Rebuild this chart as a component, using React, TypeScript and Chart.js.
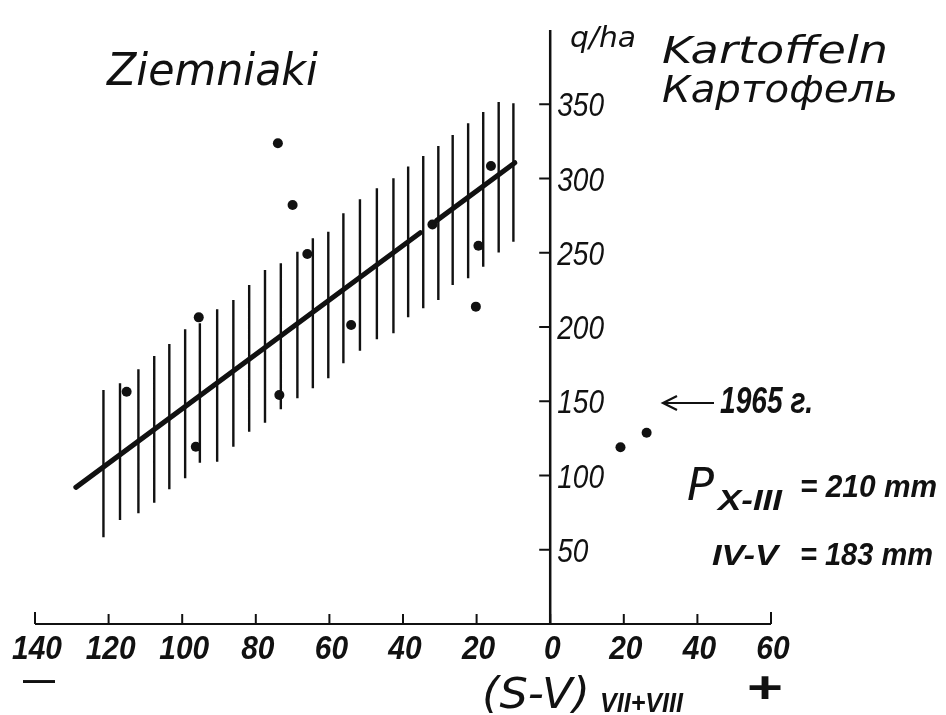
import React, { useEffect, useRef } from "react";
import { Chart, registerables } from "chart.js";

Chart.register(...registerables);

// ---- data ----
const xTicks = [-140, -120, -100, -80, -60, -40, -20, 0, 20, 40, 60];
const xTickLabels = ["140", "120", "100", "80", "60", "40", "20", "0", "20", "40", "60"];
const yTicks = [50, 100, 150, 200, 250, 300, 350];
const yTickLabels = ["50", "100", "150", "200", "250", "300", "350"];

// observed years (S-V vs yield q/ha)
const pointsX = [-74.0, -70.0, -16.1, -32.0, -19.5, -20.2, -66.0, -54.1, -95.5, -115.1, -73.6, -96.3, 19.1, 26.2];
const pointsY = [323.7, 282.2, 308.4, 269.0, 254.7, 213.7, 249.2, 201.3, 206.5, 156.4, 154.2, 119.4, 119.0, 128.8];

// regression line (with a small break around one point)
const regX = [-128.9, -35.3, -33.0, -30.8, -9.6];
const regY: (number | null)[] = [92.0, 263.5, null, 271.8, 310.6];

// confidence band hatching: vertical strokes
const hatchX = [-121.4, -116.9, -111.9, -107.6, -103.5, -99.2, -95.2, -90.5, -86.1, -81.8, -77.5, -73.2, -68.7, -64.5, -60.3, -56.2, -51.7, -47.1, -42.6, -38.6, -34.5, -30.4, -26.5, -22.3, -18.2, -14.0, -10.0];
const hatchLow = [58.4, 70.0, 74.5, 81.7, 90.7, 98.1, 108.6, 109.3, 119.4, 129.5, 135.6, 144.6, 152.0, 158.7, 165.5, 175.6, 184.0, 191.7, 195.8, 206.5, 212.6, 218.2, 228.3, 232.8, 240.6, 250.2, 257.4];
const hatchHigh = [157.6, 162.1, 171.5, 180.5, 188.6, 198.5, 202.5, 211.9, 218.2, 228.3, 238.4, 242.9, 250.7, 259.7, 264.2, 276.6, 286.0, 293.4, 300.1, 308.0, 315.2, 321.9, 329.3, 337.2, 344.8, 351.5, 350.6];

const X_MIN = -140;
const X_MAX = 60;
const Y_MIN = 0;
const Y_MAX = 400;

const INK = "#111";
const HAND = "'DejaVu Sans', 'Noto Sans', sans-serif";
const NUM = "'Liberation Sans', Arimo, sans-serif";

function drawScaled(
  ctx: CanvasRenderingContext2D,
  text: string,
  x: number,
  baseline: number,
  font: string,
  sx: number,
  align: "left" | "center" = "left"
) {
  ctx.save();
  ctx.font = font;
  const w = ctx.measureText(text).width * sx;
  const left = align === "center" ? x - w / 2 : x;
  ctx.translate(left, baseline);
  ctx.scale(sx, 1);
  ctx.textAlign = "left";
  ctx.textBaseline = "alphabetic";
  ctx.fillStyle = INK;
  ctx.fillText(text, 0, 0);
  ctx.restore();
}

function drawFit(
  ctx: CanvasRenderingContext2D,
  text: string,
  x: number,
  baseline: number,
  font: string,
  width: number
) {
  ctx.save();
  ctx.font = font;
  const w = ctx.measureText(text).width;
  ctx.restore();
  drawScaled(ctx, text, x, baseline, font, width / w);
}

const axesPlugin = {
  id: "handAxes",
  beforeDatasetsDraw(chart: any) {
    const { ctx } = chart;
    const xs = chart.scales.x;
    const ys = chart.scales.y;
    const y0 = ys.getPixelForValue(0);
    const x0 = xs.getPixelForValue(0);
    ctx.save();
    ctx.strokeStyle = INK;
    ctx.lineCap = "butt";
    // x axis
    ctx.lineWidth = 2;
    ctx.beginPath();
    ctx.moveTo(xs.getPixelForValue(X_MIN), y0);
    ctx.lineTo(xs.getPixelForValue(X_MAX), y0);
    ctx.stroke();
    xTicks.forEach((v, i) => {
      const px = xs.getPixelForValue(v);
      const len = i === 0 || i === xTicks.length - 1 ? 12 : 10;
      ctx.beginPath();
      ctx.moveTo(px, y0);
      ctx.lineTo(px, y0 - len);
      ctx.stroke();
      drawScaled(ctx, xTickLabels[i], px + 2, y0 + 35, `italic bold 34px ${NUM}`, 0.88, "center");
    });
    // y axis
    ctx.lineWidth = 2.5;
    ctx.beginPath();
    ctx.moveTo(x0, y0);
    ctx.lineTo(x0, ys.getPixelForValue(Y_MAX));
    ctx.stroke();
    ctx.lineWidth = 2;
    yTicks.forEach((v, i) => {
      const py = ys.getPixelForValue(v);
      ctx.beginPath();
      ctx.moveTo(x0 - 11, py);
      ctx.lineTo(x0, py);
      ctx.stroke();
      drawScaled(ctx, yTickLabels[i], x0 + 7, py + 12, `italic 33px ${NUM}`, 0.85);
    });
    ctx.restore();
  },
  afterDraw(chart: any) {
    const { ctx } = chart;
    ctx.save();
    // titles
    drawFit(ctx, "Ziemniaki", 107, 85, `italic 44px ${HAND}`, 211);
    drawFit(ctx, "q/ha", 570, 47, `italic 29px ${HAND}`, 66);
    drawFit(ctx, "Kartoffeln", 662, 63, `italic 37px ${HAND}`, 226);
    drawFit(ctx, "Картофель", 662, 102, `italic 37px ${HAND}`, 236);

    // arrow to 1965
    ctx.strokeStyle = INK;
    ctx.lineWidth = 2.2;
    ctx.beginPath();
    ctx.moveTo(714, 403);
    ctx.lineTo(664, 403);
    ctx.stroke();
    ctx.beginPath();
    ctx.moveTo(677, 396);
    ctx.lineTo(663, 403);
    ctx.lineTo(677, 410);
    ctx.stroke();
    drawFit(ctx, "1965 г.", 720, 413, `italic bold 36px ${NUM}`, 93);

    // precipitation note
    drawFit(ctx, "P", 687, 500, `italic 44px ${HAND}`, 27);
    drawFit(ctx, "X-III", 718, 510, `italic bold 30px ${NUM}`, 64);
    drawFit(ctx, "= 210 mm", 800, 497, `italic bold 32px ${NUM}`, 137);
    drawFit(ctx, "IV-V", 712, 565, `italic bold 30px ${NUM}`, 66);
    drawFit(ctx, "= 183 mm", 800, 565, `italic bold 32px ${NUM}`, 133);

    // axis caption
    drawFit(ctx, "(S-V)", 482, 708, `italic 42px ${HAND}`, 108);
    drawFit(ctx, "VII+VIII", 600, 712, `italic bold 27px ${NUM}`, 83);
    drawFit(ctx, "—", 23, 690, `bold 30px ${NUM}`, 32);
    drawFit(ctx, "+", 747, 703, `bold 44px ${NUM}`, 36);
    ctx.restore();
  },
};

export default function App() {
  const ref = useRef<HTMLCanvasElement | null>(null);

  useEffect(() => {
    if (!ref.current) return;
    const hatchData: { x: number; y: number | null }[] = [];
    hatchX.forEach((x, i) => {
      hatchData.push({ x, y: hatchLow[i] });
      hatchData.push({ x, y: hatchHigh[i] });
      hatchData.push({ x, y: null });
    });
    const regData = regX.map((x, i) => ({ x, y: regY[i] }));
    const ptData = pointsX.map((x, i) => ({ x, y: pointsY[i] }));

    const chart = new Chart(ref.current, {
      type: "line",
      data: {
        datasets: [
          {
            label: "band",
            data: hatchData as any,
            borderColor: INK,
            borderWidth: 2.4,
            pointRadius: 0,
            spanGaps: false,
            tension: 0,
            borderCapStyle: "butt",
            clip: false as any,
          },
          {
            label: "regression",
            data: regData as any,
            borderColor: INK,
            borderWidth: 5,
            pointRadius: 0,
            spanGaps: false,
            tension: 0,
            borderCapStyle: "round",
            clip: false as any,
          },
          {
            label: "years",
            data: ptData as any,
            showLine: false,
            pointRadius: 5,
            pointBackgroundColor: INK,
            pointBorderWidth: 0,
            borderColor: INK,
            clip: false as any,
          },
        ],
      },
      options: {
        responsive: false,
        animation: false,
        events: [],
        layout: { padding: { left: 35, right: 175, top: 30, bottom: 91 } },
        plugins: { legend: { display: false }, tooltip: { enabled: false }, title: { display: false } },
        scales: {
          x: { type: "linear", min: X_MIN, max: X_MAX, display: false },
          y: { type: "linear", min: Y_MIN, max: Y_MAX, display: false },
        },
      },
      plugins: [axesPlugin],
    });
    return () => chart.destroy();
  }, []);

  return (
    <div style={{ position: "absolute", left: 0, top: 0, width: 946, height: 715, background: "#fff" }}>
      <canvas ref={ref} width={946} height={715} style={{ display: "block", width: 946, height: 715 }} />
    </div>
  );
}
